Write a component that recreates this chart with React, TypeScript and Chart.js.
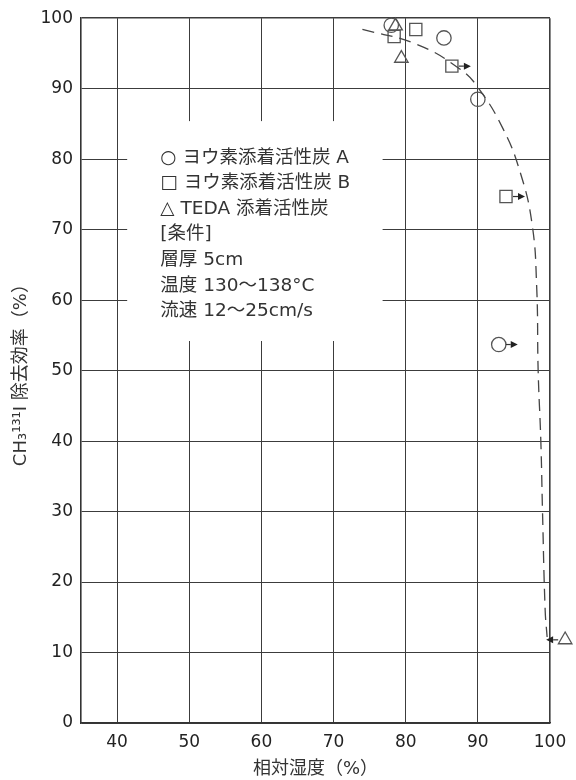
import { useEffect, useRef } from 'react';
import { Chart, registerables } from 'chart.js';

Chart.register(...registerables);

// ---- data ----
const xTicks = [40, 50, 60, 70, 80, 90, 100];
const yTicks = [0, 10, 20, 30, 40, 50, 60, 70, 80, 90, 100];

const seriesAX = [78.0, 85.3, 90.0, 92.9];
const seriesAY = [99.0, 97.2, 88.5, 53.7];
const seriesAArrow = [0, 0, 0, 1];

const seriesBX = [78.4, 81.4, 86.4, 93.9];
const seriesBY = [97.4, 98.4, 93.2, 74.7];
const seriesBArrow = [0, 0, 1, 1];

const seriesCX = [78.6, 79.4, 102.1];
const seriesCY = [98.9, 94.3, 11.8];
const seriesCArrow = [0, 0, -1];

const curveX = [74.0, 81.5, 87.5, 90.0, 93.5, 95.85, 97.5, 98.15, 98.36, 98.73, 98.96, 99.33, 99.6];
const curveY = [98.4, 96.3, 92.8, 90.2, 84.3, 78.2, 70.9, 62.0, 49.9, 40.0, 30.1, 16.0, 12.2];

const legendLines = [
  '○ ヨウ素添着活性炭 A',
  '□ ヨウ素添着活性炭 B',
  '△ TEDA 添着活性炭',
  '[条件]',
  '層厚 5cm',
  '温度 130～138°C',
  '流速 12～25cm/s',
];

const xTitle = '相対湿度（%）';
const yTitle = 'CH₃¹³¹I 除去効率（%）';

const FONT = '"DejaVu Sans", "Noto Sans CJK JP", sans-serif';

const zip = (xs: number[], ys: number[]) => xs.map((x, i) => ({ x, y: ys[i] }));

const boxPlugin = {
  id: 'legendBox',
  beforeDatasetsDraw(chart: any) {
    const { ctx, scales } = chart;
    const xs = scales.x;
    const ys = scales.y;
    const l = xs.getPixelForValue(41.4);
    const r = xs.getPixelForValue(76.8);
    const t = ys.getPixelForValue(85.4);
    const b = ys.getPixelForValue(54.2);
    ctx.save();
    ctx.fillStyle = '#ffffff';
    ctx.fillRect(l, t, r - l, b - t);
    ctx.fillStyle = '#333333';
    ctx.font = `18.5px ${FONT}`;
    ctx.textBaseline = 'middle';
    ctx.textAlign = 'left';
    const tx = xs.getPixelForValue(46);
    const ty = ys.getPixelForValue(80.2);
    legendLines.forEach((line, i) => {
      ctx.fillText(line, tx, ty + i * 25.6);
    });
    ctx.restore();
  },
};

const arrowPlugin = {
  id: 'arrows',
  afterDatasetsDraw(chart: any) {
    const { ctx, chartArea } = chart;
    chart.data.datasets.forEach((ds: any, di: number) => {
      if (!ds.arrows) return;
      const meta = chart.getDatasetMeta(di);
      meta.data.forEach((pt: any, i: number) => {
        const px = pt.x;
        const py = pt.y;
        const r = ds.pointRadius;
        // markers outside the plot area are skipped by Chart.js; draw them here
        if (px - r / 2 > chartArea.right || px + r / 2 < chartArea.left) {
          ctx.save();
          ctx.strokeStyle = ds.borderColor;
          ctx.lineWidth = ds.borderWidth;
          ctx.beginPath();
          if (ds.pointStyle === 'triangle') {
            let rad = 0;
            ctx.moveTo(px + Math.sin(rad) * r, py - Math.cos(rad) * r);
            rad += (2 * Math.PI) / 3;
            ctx.lineTo(px + Math.sin(rad) * r, py - Math.cos(rad) * r);
            rad += (2 * Math.PI) / 3;
            ctx.lineTo(px + Math.sin(rad) * r, py - Math.cos(rad) * r);
            ctx.closePath();
          } else if (ds.pointStyle === 'rect') {
            const s = Math.SQRT1_2 * r;
            ctx.rect(px - s, py - s, 2 * s, 2 * s);
          } else {
            ctx.arc(px, py, r, 0, Math.PI * 2);
          }
          ctx.stroke();
          ctx.restore();
        }
        const dir = ds.arrows[i];
        if (!dir) return;
        const sx = px + dir * 7;
        const se = sx + dir * 5;
        const tip = sx + dir * 12;
        ctx.save();
        ctx.strokeStyle = '#333';
        ctx.lineWidth = 1.2;
        ctx.beginPath();
        ctx.moveTo(sx, py);
        ctx.lineTo(se, py);
        ctx.stroke();
        ctx.fillStyle = '#222';
        ctx.beginPath();
        ctx.moveTo(tip, py);
        ctx.lineTo(se, py - 3.5);
        ctx.lineTo(se, py + 3.5);
        ctx.closePath();
        ctx.fill();
        ctx.restore();
      });
    });
  },
};

export default function App() {
  const ref = useRef<HTMLCanvasElement>(null);

  useEffect(() => {
    document.body.style.margin = '0';
    const canvas = ref.current;
    if (!canvas) return;
    const markerCommon = {
      type: 'scatter' as const,
      showLine: false,
      borderColor: '#555',
      backgroundColor: 'rgba(0,0,0,0)',
      borderWidth: 1.3,
      clip: false as any,
    };
    const chart = new Chart(canvas, {
      type: 'scatter',
      data: {
        datasets: [
          {
            type: 'scatter',
            data: zip(curveX, curveY),
            showLine: true,
            borderColor: '#444',
            borderWidth: 1.3,
            borderDash: [12, 7],
            pointRadius: 0,
            tension: 0.45,
            clip: false as any,
          } as any,
          {
            ...markerCommon,
            data: zip(seriesAX, seriesAY),
            pointStyle: 'circle',
            pointRadius: 7.2,
            arrows: seriesAArrow,
          } as any,
          {
            ...markerCommon,
            data: zip(seriesBX, seriesBY),
            pointStyle: 'rect',
            pointRadius: 8.6,
            arrows: seriesBArrow,
          } as any,
          {
            ...markerCommon,
            data: zip(seriesCX, seriesCY),
            pointStyle: 'triangle',
            pointRadius: 7.8,
            arrows: seriesCArrow,
          } as any,
        ],
      },
      options: {
        animation: false,
        responsive: false,
        devicePixelRatio: 1,
        events: [],
        layout: { padding: { left: 0, right: 26, top: 16, bottom: 0 } },
        plugins: {
          legend: { display: false },
          tooltip: { enabled: false },
        },
        scales: {
          x: {
            type: 'linear',
            min: 35,
            max: 100,
            afterBuildTicks: (s: any) => {
              s.ticks = xTicks.map((v) => ({ value: v }));
            },
            afterFit: (s: any) => {
              s.height = 57;
            },
            grid: {
              color: '#3c3c3c',
              lineWidth: (c: any) => (c.tick && c.tick.value === 100 ? 1.6 : 1),
              drawTicks: false,
            },
            border: { color: '#333', width: 1.6 },
            ticks: {
              padding: 9,
              color: '#222',
              font: { family: FONT, size: 17 },
            },
            title: {
              display: true,
              text: xTitle,
              color: '#333',
              padding: { top: 0, bottom: 0 },
              font: { family: FONT, size: 18 },
            },
          },
          y: {
            type: 'linear',
            min: 0,
            max: 100,
            afterBuildTicks: (s: any) => {
              s.ticks = yTicks.map((v) => ({ value: v }));
            },
            afterFit: (s: any) => {
              s.width = 81;
            },
            grid: {
              color: '#3c3c3c',
              lineWidth: (c: any) => (c.tick && c.tick.value === 100 ? 1.6 : 1),
              drawTicks: false,
            },
            border: { color: '#333', width: 1.6 },
            ticks: {
              padding: 8,
              color: '#222',
              font: { family: FONT, size: 17 },
            },
            title: {
              display: true,
              text: yTitle,
              color: '#333',
              padding: { top: 11, bottom: 0 },
              font: { family: FONT, size: 18 },
            },
          },
        },
      },
      plugins: [boxPlugin, arrowPlugin],
    } as any);
    return () => chart.destroy();
  }, []);

  return (
    <div style={{ width: 576, height: 780 }}>
      <canvas ref={ref} width={576} height={780} style={{ display: 'block' }} />
    </div>
  );
}
